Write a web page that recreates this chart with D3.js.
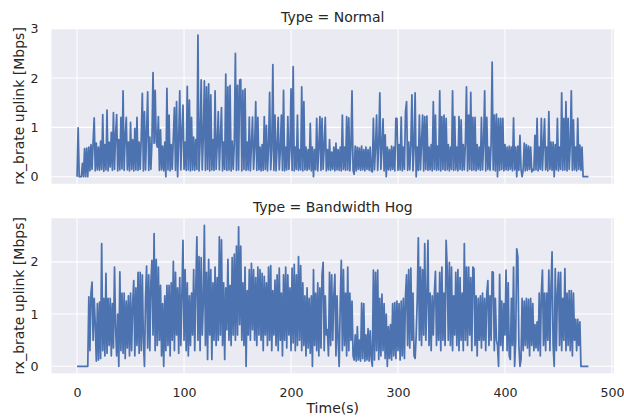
<!DOCTYPE html>
<html>
<head>
<meta charset="utf-8">
<script src="https://cdn.jsdelivr.net/npm/d3@7"></script>
<style>
  html, body { margin: 0; padding: 0; background: #ffffff; }
  svg { display: block; }
  text { font-family: "DejaVu Sans", sans-serif; fill: #262626; }
</style>
</head>
<body>
<div id="chart"></div>
<script>
// ---- data (1 sample per second, t = 0 .. 478) ----
const normalRate = [
  0, 0.99, 0, 0, 0, 0.27, 0, 0.57, 0, 0.58,
  0, 0.6, 0.12, 0.65, 0.15, 0.7, 1.19, 0.12, 0.68, 0.14,
  0.6, 0.13, 0.72, 0.15, 1.26, 0.11, 0.65, 0.14, 1.35, 0.12,
  0.7, 0.2, 0.9, 0.13, 1.3, 0.15, 0.85, 1.26, 0.12, 0.75,
  0.14, 1.2, 0.16, 1.74, 0.13, 0.8, 1.2, 0.14, 0.7, 0.12,
  1.1, 0.15, 0.75, 0.12, 0.98, 0.14, 1.2, 0.13, 0.7, 0.15,
  0.8, 1.69, 0.12, 1.32, 0.14, 0.9, 1.72, 0.13, 0.8, 0.15,
  0.72, 2.11, 0.68, 1.75, 0.7, 0.6, 1.22, 0.13, 0.95, 0.14,
  0.62, 0.12, 0.7, 0.0, 1.79, 0.14, 1.25, 0.12, 0.65, 0.15,
  0.8, 1.40, 0.13, 1.52, 0.0, 0.75, 1.74, 0.14, 0.9, 1.45,
  0.15, 0.7, 0.13, 1.83, 0.14, 1.55, 0.12, 1.2, 0.14, 0.8,
  0.13, 0.75, 0.15, 2.87, 0.12, 0.7, 1.96, 0.14, 0.8, 1.94,
  0.13, 1.82, 0.15, 1.88, 0.12, 1.66, 0.14, 0.75, 0.13, 1.74,
  0.15, 0.65, 1.32, 0.14, 0.8, 1.4, 0.12, 0.7, 0.15, 2.08,
  0.13, 1.82, 0.14, 1.85, 0.12, 0.72, 0.15, 0.7, 2.50, 0.13,
  1.85, 0.14, 1.96, 1.97, 0.12, 1.75, 0.15, 1.78, 0.13, 0.7,
  0.14, 1.21, 0.12, 0.65, 1.21, 0.15, 0.6, 1.52, 0.13, 1.2,
  0.14, 0.6, 0.12, 0.65, 0.13, 1.22, 0.15, 1.04, 0.12, 0.6,
  1.71, 0.14, 0.55, 2.27, 0.13, 1.25, 0.12, 0.6, 1.2, 0.14,
  0.55, 1.25, 0.13, 1.75, 0.12, 0.6, 0.14, 1.22, 0.15, 0.55,
  1.78, 0.13, 2.23, 0.12, 0.6, 0.15, 1.25, 0.13, 0.55, 0.14,
  1.82, 0.12, 1.52, 0.14, 0.6, 0.13, 0.55, 0.15, 1.08, 0.12,
  0.6, 0.0, 0.55, 0.14, 1.18, 0.12, 0.6, 1.22, 0.13, 1.18,
  0.15, 0.6, 1.2, 0.12, 0.55, 0.14, 0.75, 0.13, 0.5, 0.15,
  0.6, 0.12, 0.68, 0.14, 0.55, 0.13, 0.6, 0.12, 1.25, 0.15,
  0.6, 0.13, 1.22, 0.14, 1.19, 0.12, 0.6, 1.74, 0.13, 0.05,
  0.62, 0.12, 0.6, 0.15, 0.58, 0.13, 0.62, 0.14, 0.55, 0.12,
  0.6, 0.15, 0.55, 0.13, 0.6, 0.12, 0.1, 1.18, 0.14, 0.6,
  1.25, 0.13, 0.65, 1.70, 0.15, 0.6, 1.17, 0.12, 0.85, 0.0,
  0.6, 0.14, 0.55, 0.13, 0.62, 0.15, 0.6, 0.12, 1.18, 1.18,
  0.13, 0.65, 0.14, 1.21, 0.12, 0.6, 0.15, 1.32, 1.52, 0.13,
  0.7, 0.14, 0.65, 1.66, 0.12, 0.6, 1.70, 0.0, 0.6, 0.13,
  1.25, 0.14, 0.7, 1.25, 0.12, 1.22, 0.15, 1.23, 0.13, 0.6,
  0.14, 0.65, 0.12, 1.52, 0.15, 1.25, 0.13, 0.62, 0.14, 1.74,
  0.12, 1.22, 0.15, 1.25, 0.13, 1.18, 0.14, 0.65, 0.12, 0.6,
  0.15, 1.74, 0.13, 1.22, 0.14, 0.6, 0.12, 1.22, 0.15, 1.15,
  0.13, 0.65, 0.14, 0.7, 1.82, 0.12, 1.25, 0.15, 1.71, 0.13,
  1.2, 0.14, 1.2, 0.12, 0.65, 0.15, 0.6, 0.13, 1.2, 0.14,
  0.65, 1.74, 0.12, 1.2, 0.15, 0.6, 0.13, 0.65, 2.32, 0.14,
  1.25, 0.12, 1.27, 0.0, 1.18, 0.13, 1.18, 0.15, 1.18, 0.12,
  0.65, 0.14, 0.6, 0.13, 0.62, 0.15, 0.6, 0.12, 1.19, 0.14,
  0.6, 0.0, 0.62, 0.13, 0.84, 0.15, 0.0, 0.14, 0.68, 0.12,
  0.65, 0.13, 0.62, 0.15, 0.6, 0.1, 0.15, 0.13, 0.84, 0.14,
  1.18, 0.12, 0.6, 0.15, 1.18, 0.13, 0.65, 1.17, 0.14, 0.6,
  0.12, 1.32, 0.15, 0.7, 0.13, 0.7, 0.0, 0.65, 0.14, 1.18,
  0.12, 0.6, 0.15, 1.70, 0.13, 1.18, 0.14, 1.52, 0.12, 1.18,
  0.15, 0.65, 1.74, 0.13, 1.15, 0.14, 0.6, 0.12, 1.18, 0.15,
  0.64, 0.13, 0.6, 0, 0, 0, 0, 0, 0
];

const hogRate = [
  0, 0, 0, 0, 0, 0, 0, 0, 0, 0,
  0, 1.33, 0.3, 1.4, 1.61, 0.5, 1.3, 0.8, 0.1, 1.2,
  0.12, 1.23, 0.15, 2.35, 0.3, 1.3, 0.2, 1.78, 0.25, 1.3,
  0.4, 1.3, 0.2, 1.2, 0.35, 1.90, 0.75, 0.2, 1.0, 0.0,
  1.81, 0.3, 1.4, 0.25, 1.4, 0.15, 1.25, 0.35, 1.35, 0.2,
  1.4, 0.3, 1.2, 1.64, 0.2, 1.5, 0.4, 1.80, 0.25, 1.8,
  0.3, 1.75, 0.5, 0.0, 1.3, 1.92, 0.35, 1.75, 0.3, 1.6,
  2.03, 0.6, 2.54, 0.3, 2.05, 0.4, 1.9, 0.5, 1.55, 0.2,
  1.2, 0.0, 1.35, 0.3, 1.55, 0.4, 1.55, 0.2, 1.6, 0.5,
  2.01, 0.3, 1.8, 0.6, 1.5, 0.25, 1.7, 0.4, 1.4, 2.41,
  0.5, 1.85, 0.3, 1.6, 0.2, 1.35, 0.4, 1.4, 0.6, 1.85,
  0.3, 1.5, 2.48, 0.5, 2.1, 0.3, 2.08, 0.6, 1.2, 2.70,
  0.4, 1.8, 0.13, 2.05, 0.6, 1.85, 0.13, 1.6, 0.5, 1.9,
  0.4, 1.7, 0.5, 2.48, 0.6, 2.42, 0.4, 1.6, 0.13, 1.5,
  0.7, 2.05, 0.5, 1.55, 0.4, 2.08, 0.6, 2.15, 0.5, 2.3,
  0.6, 2.67, 0.8, 2.3, 0.5, 1.6, 0.4, 1.9, 0.0, 1.45,
  0.6, 1.85, 0.5, 1.97, 0.7, 1.85, 0.5, 1.7, 0.4, 1.9,
  0.6, 1.85, 0.5, 1.78, 0.3, 1.72, 0.6, 1.6, 0.4, 1.9,
  0.5, 1.93, 0.3, 1.45, 0.6, 1.65, 0.4, 1.75, 0.3, 1.88,
  0.5, 1.4, 0.2, 1.75, 0.5, 1.9, 0.35, 1.75, 0.6, 1.5,
  0.3, 1.88, 0.45, 1.95, 0.3, 1.75, 0.4, 2.1, 0.5, 1.93,
  0.3, 1.6, 0.4, 1.35, 0.2, 1.5, 0.35, 1.3, 0.25, 1.35,
  0.0, 1.85, 0.4, 1.4, 0.3, 1.6, 0.2, 1.5, 0.35, 1.75,
  1.99, 0.3, 1.35, 0.6, 0.7, 0.2, 1.8, 0.4, 1.75, 0.5,
  1.35, 1.76, 0.2, 1.35, 0.5, 0.0, 1.2, 2.03, 0.3, 1.85,
  0.4, 1.4, 0.2, 1.9, 0.3, 1.4, 0.5, 1.25, 0.2, 0.12,
  0.6, 0.1, 0.76, 0.12, 0.5, 0.1, 1.21, 0.15, 1.2, 0.1,
  0.6, 0.12, 0.72, 0.1, 0.68, 0.15, 0.0, 1.84, 0.12, 1.8,
  0.3, 1.84, 0.13, 1.3, 0.2, 1.38, 0.3, 1.2, 0.15, 1.0,
  0.0, 0.76, 0.15, 0.8, 0.12, 1.2, 0.2, 1.22, 0.15, 1.25,
  0.3, 1.2, 0.12, 1.25, 0.2, 1.3, 0.15, 1.35, 1.75, 0.4,
  1.85, 0.35, 1.88, 0.5, 1.4, 0.2, 0.15, 0.6, 1.3, 2.46,
  0.5, 1.9, 0.4, 1.85, 0.6, 2.35, 0.5, 1.3, 2.41, 0.4,
  1.4, 0.3, 1.35, 0.6, 1.4, 1.82, 0.4, 1.4, 0.5, 1.8,
  0.3, 1.9, 0.5, 1.4, 0.4, 2.41, 1.85, 0.5, 1.99, 0.4,
  1.9, 0.3, 1.35, 0.6, 1.8, 0.4, 1.85, 0.3, 1.7, 0.5,
  1.4, 0.3, 2.35, 0.5, 1.9, 0.4, 1.9, 0.6, 1.7, 0.3,
  1.9, 1.87, 0.4, 1.35, 0.2, 1.3, 0.5, 1.35, 0.35, 1.4,
  0.5, 1.3, 0.3, 1.4, 1.64, 0.4, 1.35, 0.5, 1.81, 1.8,
  0.3, 1.3, 0.5, 0.4, 0.0, 1.76, 0.4, 1.25, 0.3, 1.2,
  0.6, 1.84, 0.3, 1.6, 0.2, 0.13, 1.3, 0.4, 1.9, 0.0,
  0.5, 2.25, 2.1, 0.4, 0.0, 0.13, 1.3, 0.3, 1.25, 0.4,
  1.3, 0.35, 1.28, 0.2, 1.3, 0.4, 1.2, 0.3, 0.8, 0.35,
  0.85, 0.3, 1.4, 0.2, 1.4, 1.84, 0.4, 1.4, 0.3, 1.4,
  0.5, 1.84, 0.3, 1.5, 2.19, 0.4, 0.0, 1.87, 0.3, 1.4,
  1.8, 0.4, 1.8, 0.3, 1.3, 0.5, 1.87, 0.3, 1.4, 0.4,
  1.45, 0.3, 1.45, 0.2, 1.4, 0.5, 0.9, 0.3, 0.9, 0.4,
  0.85, 0, 0, 0, 0, 0, 0, 0, 0
];

const xTicks = [0, 100, 200, 300, 400, 500];
const yTicksNormal = [0, 1, 2, 3];
const yTicksHog = [0, 1, 2];
const panelTitles = ["Type = Normal", "Type = Bandwidth Hog"];
const yLabel = "rx_brate uplink [Mbps]";
const xLabel = "Time(s)";

// ---- layout ----
const W = 624, H = 419;
const left = 51.5, right = 614;
const panels = [
  { title: panelTitles[0], data: normalRate, ticks: yTicksNormal, top: 28, bottom: 183.8 },
  { title: panelTitles[1], data: hogRate, ticks: yTicksHog, top: 218.3, bottom: 373.3 }
];
const tickFont = "12.6px", labelFont = "14px";

const svg = d3.select("#chart").append("svg").attr("width", W).attr("height", H);

const n = normalRate.length;
const tMax = n - 1;
const xPad = tMax * 0.05;
const x = d3.scaleLinear().domain([-xPad, tMax + xPad]).range([left, right]);

panels.forEach((p, i) => {
  const maxV = d3.max(p.data), minV = d3.min(p.data);
  const pad = (maxV - minV) * 0.05;
  const y = d3.scaleLinear().domain([minV - pad, maxV + pad]).range([p.bottom, p.top]);

  const g = svg.append("g");
  g.append("rect").attr("x", left).attr("y", p.top)
    .attr("width", right - left).attr("height", p.bottom - p.top)
    .attr("fill", "#EAEAF2");

  // grid
  g.selectAll(".vg").data(xTicks).enter().append("line")
    .attr("x1", d => x(d)).attr("x2", d => x(d))
    .attr("y1", p.top).attr("y2", p.bottom)
    .attr("stroke", "#ffffff").attr("stroke-width", 1.1);
  g.selectAll(".hg").data(p.ticks.filter(d => y(d) >= p.top - 0.5)).enter().append("line")
    .attr("x1", left).attr("x2", right)
    .attr("y1", d => y(d)).attr("y2", d => y(d))
    .attr("stroke", "#ffffff").attr("stroke-width", 1.1);

  // y axis
  const ya = d3.axisLeft(y).tickValues(p.ticks).tickSize(0).tickPadding(13).tickFormat(d3.format("d"));
  const yg = g.append("g").attr("transform", `translate(${left},0)`).call(ya);
  yg.select(".domain").remove();
  yg.selectAll("text").style("font-family", "DejaVu Sans, sans-serif").style("font-size", tickFont).attr("fill", "#262626");

  // line
  const line = d3.line().x((d, k) => x(k)).y(d => y(d));
  g.append("path").datum(p.data)
    .attr("d", line)
    .attr("fill", "none")
    .attr("stroke", "#4C72B0")
    .attr("stroke-width", 1.75)
    .attr("stroke-linejoin", "round");

  // title
  g.append("text").attr("x", (left + right) / 2).attr("y", p.top - 6.3)
    .attr("text-anchor", "middle").style("font-size", labelFont).text(p.title);

  // y label
  const cy = (p.top + p.bottom) / 2;
  g.append("text").attr("transform", `translate(23.5,${cy}) rotate(-90)`)
    .attr("text-anchor", "middle").style("font-size", labelFont).text(yLabel);

  if (i === 1) {
    const xa = d3.axisBottom(x).tickValues(xTicks).tickSize(0).tickPadding(14.5);
    const xg = g.append("g").attr("transform", `translate(0,${p.bottom})`).call(xa);
    xg.select(".domain").remove();
    xg.selectAll("text").style("font-family", "DejaVu Sans, sans-serif").style("font-size", tickFont).attr("fill", "#262626");
    g.append("text").attr("x", (left + right) / 2).attr("y", 413.3)
      .attr("text-anchor", "middle").style("font-size", labelFont).text(xLabel);
  }
});
</script>
</body>
</html>
